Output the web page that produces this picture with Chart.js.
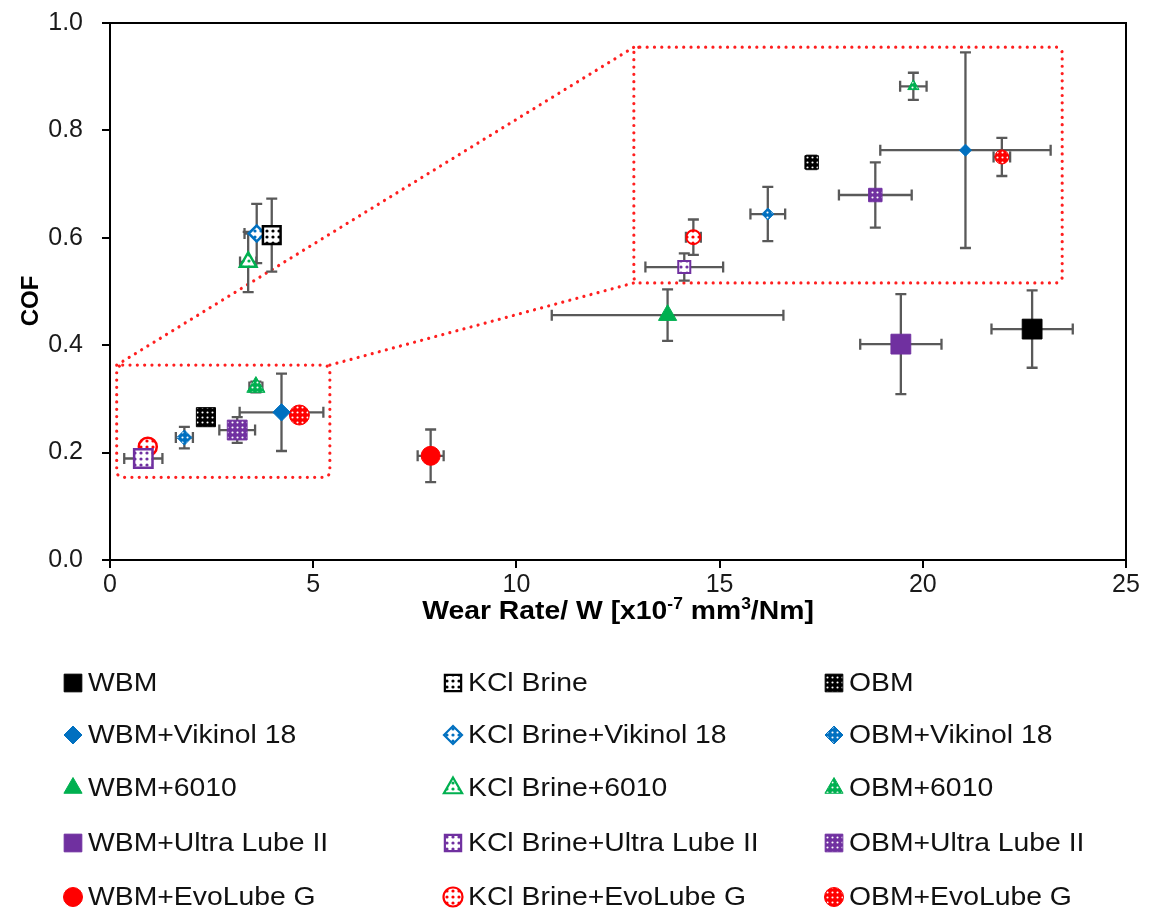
<!DOCTYPE html>
<html>
<head>
<meta charset="utf-8">
<title>COF vs wear rate</title>
<script src="https://cdn.jsdelivr.net/npm/chart.js@4/dist/chart.umd.min.js"></script>
<style>
  html, body { margin: 0; padding: 0; background: #ffffff; }
  #wrap { width: 1150px; height: 913px; }
</style>
</head>
<body>
<div id="wrap"><canvas id="c" width="1150" height="913"></canvas></div>
<script>
// Drilling fluids and lubricant additives
const bases = ['WBM', 'KCl Brine', 'OBM'];
const additives = ['', '+Vikinol 18', '+6010', '+Ultra Lube II', '+EvoLube G'];

// Mean wear rate [x10^-7 mm3/Nm], one entry per additive
const wearWBM = [22.69, 4.22, 13.72, 19.46, 7.89];
const wearKCl = [3.98, 3.61, 3.40, 0.82, 0.93];
const wearOBM = [2.36, 1.83, 3.59, 3.13, 4.66];

// Mean coefficient of friction
const cofWBM = [0.430, 0.275, 0.456, 0.402, 0.194];
const cofKCl = [0.605, 0.608, 0.555, 0.189, 0.211];
const cofOBM = [0.266, 0.228, 0.322, 0.242, 0.270];

// Standard deviations
const wearErrWBM = [1.00, 1.03, 2.85, 1.00, 0.32];
const wearErrKCl = [0.15, 0.30, 0.20, 0.47, 0.09];
const wearErrOBM = [0.05, 0.21, 0.16, 0.44, 0.10];
const cofErrWBM = [0.072, 0.072, 0.048, 0.093, 0.049];
const cofErrKCl = [0.068, 0.055, 0.056, 0.010, 0.013];
const cofErrOBM = [0.005, 0.020, 0.010, 0.024, 0.014];

// Axis ticks
const xTicks = [0, 5, 10, 15, 20, 25];
const yTicks = [0.0, 0.2, 0.4, 0.6, 0.8, 1.0];

// Magnified view: region of the plot that is enlarged, and where the enlargement sits
const ZOOM_SOURCE = { x: [0.165, 5.41], y: [0.154, 0.363] };
const ZOOM_TARGET = { x: [12.89, 23.43], y: [0.516, 0.955] };
const ZOOM_GAIN = { x: 2.035, y: 2.53 };
const ZOOM_SHIFT = { x: 12.462, y: 0.0674 };

const wear = [wearWBM, wearKCl, wearOBM];
const cof = [cofWBM, cofKCl, cofOBM];
const wearErr = [wearErrWBM, wearErrKCl, wearErrOBM];
const cofErr = [cofErrWBM, cofErrKCl, cofErrOBM];

// ---- marker styling ----
const FONT = '"Liberation Sans", Arial, Helvetica, sans-serif';
const TEXT_STRETCH = 1.09;
const colors = ['#000000', '#0070c0', '#00b050', '#7030a0', '#ff0000'];
const shapes = ['rect', 'rectRot', 'triangle', 'rect', 'circle'];
const radiusMain = [
  [14, 8.7, 10.5, 14, 9.5],   // WBM
  [12.5, 8, 9.5, 13, 9],      // KCl Brine
  [13.5, 7.5, 10.5, 14, 10]   // OBM
];
const radiusInset = { rect: 9.5, rectRot: 6, triangle: 6.5, circle: 7 };
const radiusLegend = { rect: 12.5, rectRot: 9, triangle: 10.5, circle: 9.5 };

const canvas = document.getElementById('c');
const ctx0 = canvas.getContext('2d');

function dotTile(bg, fg, step, r) {
  const t = document.createElement('canvas');
  t.width = step; t.height = step;
  const g = t.getContext('2d');
  g.fillStyle = bg; g.fillRect(0, 0, step, step);
  g.fillStyle = fg;
  g.beginPath(); g.arc(step / 2, step / 2, r, 0, Math.PI * 2); g.fill();
  return ctx0.createPattern(t, 'repeat');
}

// WBM: solid; KCl Brine: open marker with coloured speckles; OBM: solid with white dots
const fills = colors.map(c => [c, dotTile('#ffffff', c, 6, 1.6), dotTile(c, '#ffffff', 5, 1.05)]);
const borderW = [1, 2.5, 1];

function markerStyle(b, a) {
  return {
    pointStyle: shapes[a],
    backgroundColor: fills[a][b],
    borderColor: colors[a],
    borderWidth: borderW[b]
  };
}

const datasets = [];
const insetSets = [];
additives.forEach((add, a) => {
  bases.forEach((base, b) => {
    const st = markerStyle(b, a);
    const p = { x: wear[b][a], y: cof[b][a], xe: wearErr[b][a], ye: cofErr[b][a] };
    datasets.push({
      label: base + add,
      data: [p],
      pointStyle: st.pointStyle,
      pointRadius: radiusMain[b][a],
      pointBackgroundColor: st.backgroundColor,
      pointBorderColor: st.borderColor,
      pointBorderWidth: st.borderWidth,
      showLine: false,
      legendInfo: { b, a }
    });
    const inZoom = p.x >= ZOOM_SOURCE.x[0] && p.x <= ZOOM_SOURCE.x[1] &&
                   p.y >= ZOOM_SOURCE.y[0] && p.y <= ZOOM_SOURCE.y[1];
    if (inZoom) {
      insetSets.push({
        label: base + add + ' (detail)',
        data: [{
          x: ZOOM_SHIFT.x + ZOOM_GAIN.x * p.x,
          y: ZOOM_SHIFT.y + ZOOM_GAIN.y * p.y,
          xe: ZOOM_GAIN.x * p.xe,
          ye: ZOOM_GAIN.y * p.ye
        }],
        pointStyle: st.pointStyle,
        pointRadius: radiusInset[st.pointStyle] - (b === 1 && st.pointStyle === 'rect' ? 1 : 0),
        pointBackgroundColor: st.backgroundColor,
        pointBorderColor: st.borderColor,
        pointBorderWidth: b === 1 ? 2 : 1,
        showLine: false,
        inset: true
      });
    }
  });
});

// ---- plugins ----
function dottedPath(ctx, fn) {
  ctx.save();
  ctx.strokeStyle = '#ff1f1f';
  ctx.lineWidth = 3.2;
  ctx.lineCap = 'round';
  ctx.setLineDash([0.01, 7.3]);
  ctx.beginPath();
  fn();
  ctx.stroke();
  ctx.restore();
}

const zoomFrame = {
  id: 'zoomFrame',
  beforeDatasetsDraw(chart) {
    const { ctx, scales: { x, y } } = chart;
    const rect = (r) => {
      const l = x.getPixelForValue(r.x[0]), rr = x.getPixelForValue(r.x[1]);
      const t = y.getPixelForValue(r.y[1]), bt = y.getPixelForValue(r.y[0]);
      return { l, r: rr, t, b: bt };
    };
    const s = rect(ZOOM_SOURCE), d = rect(ZOOM_TARGET);
    [s, d].forEach(q => dottedPath(ctx, () => {
      if (ctx.roundRect) ctx.roundRect(q.l, q.t, q.r - q.l, q.b - q.t, 6);
      else ctx.rect(q.l, q.t, q.r - q.l, q.b - q.t);
    }));
    dottedPath(ctx, () => {
      ctx.moveTo(s.l, s.t); ctx.lineTo(d.l, d.t);
      ctx.moveTo(s.r, s.t); ctx.lineTo(d.l, d.b);
    });
  }
};

const CAP = 5.5;
const errorBars = {
  id: 'errorBars',
  beforeDatasetsDraw(chart) {
    const { ctx, scales: { x, y } } = chart;
    ctx.save();
    ctx.strokeStyle = '#595959';
    ctx.lineWidth = 2.3;
    const seg = (x1, y1, x2, y2) => { ctx.moveTo(x1, y1); ctx.lineTo(x2, y2); };
    ctx.beginPath();
    chart.data.datasets.forEach(ds => {
      ds.data.forEach(p => {
        const px = x.getPixelForValue(p.x), py = y.getPixelForValue(p.y);
        if (p.xe) {
          const l = x.getPixelForValue(p.x - p.xe), r = x.getPixelForValue(p.x + p.xe);
          seg(l, py, r, py); seg(l, py - CAP, l, py + CAP); seg(r, py - CAP, r, py + CAP);
        }
        if (p.ye) {
          const t = y.getPixelForValue(p.y + p.ye), b = y.getPixelForValue(p.y - p.ye);
          seg(px, t, px, b); seg(px - CAP, t, px + CAP, t); seg(px - CAP, b, px + CAP, b);
        }
      });
    });
    ctx.stroke();
    ctx.restore();
  }
};

const frameAndTitles = {
  id: 'frameAndTitles',
  afterDraw(chart) {
    const { ctx, chartArea: ca } = chart;
    ctx.save();
    // top and right edges of the plot box
    ctx.strokeStyle = '#000000';
    ctx.lineWidth = 2;
    ctx.beginPath();
    ctx.moveTo(ca.left, ca.top); ctx.lineTo(ca.right, ca.top); ctx.lineTo(ca.right, ca.bottom);
    ctx.stroke();

    ctx.fillStyle = '#000000';
    // x axis title with superscripts
    const parts = [['Wear Rate/ W [x10', 0], ['-7', 1], [' mm', 0], ['3', 1], ['/Nm]', 0]];
    const big = 'bold 26px ' + FONT, small = 'bold 16px ' + FONT;
    let total = 0;
    parts.forEach(([t, sup]) => { ctx.font = sup ? small : big; total += ctx.measureText(t).width; });
    ctx.save();
    ctx.translate((ca.left + ca.right) / 2, 619);
    ctx.scale(TEXT_STRETCH, 1);
    let cx = -total / 2;
    ctx.textBaseline = 'alphabetic';
    ctx.textAlign = 'left';
    parts.forEach(([t, sup]) => {
      ctx.font = sup ? small : big;
      ctx.fillText(t, cx, sup ? -10 : 0);
      cx += ctx.measureText(t).width;
    });
    ctx.restore();
    // y axis title
    ctx.font = 'bold 24px ' + FONT;
    ctx.translate(31, 301);
    ctx.rotate(-Math.PI / 2);
    ctx.textAlign = 'center';
    ctx.textBaseline = 'middle';
    ctx.fillText('COF', 0, 0);
    ctx.restore();
  }
};

// marker drawing for the legend, same shapes as the data points
function drawMarker(ctx, style, radius, x, y) {
  if (Chart.helpers && Chart.helpers.drawPoint) {
    Chart.helpers.drawPoint(ctx, { pointStyle: style, rotation: 0, radius, borderWidth: ctx.lineWidth }, x, y);
    return;
  }
  ctx.beginPath();
  ctx.arc(x, y, radius, 0, Math.PI * 2);
  ctx.fill(); ctx.stroke();
}

const legendCols = [73, 453, 834];
const legendRows = [683, 735, 788, 843, 897];
const gridLegend = {
  id: 'gridLegend',
  afterDraw(chart) {
    const { ctx } = chart;
    ctx.save();
    chart.data.datasets.forEach(ds => {
      if (!ds.legendInfo) return;
      const { b, a } = ds.legendInfo;
      const mx = legendCols[b], my = legendRows[a];
      ctx.fillStyle = ds.pointBackgroundColor;
      ctx.strokeStyle = ds.pointBorderColor;
      ctx.lineWidth = b === 1 ? 2.2 : 1;
      drawMarker(ctx, ds.pointStyle, radiusLegend[ds.pointStyle] - (b === 1 && ds.pointStyle === 'rect' ? 1 : 0), mx, my);
      ctx.save();
      ctx.translate(mx + 15, my);
      ctx.scale(TEXT_STRETCH, 1);
      ctx.fillStyle = '#111111';
      ctx.font = '26px ' + FONT;
      ctx.textAlign = 'left';
      ctx.textBaseline = 'middle';
      ctx.fillText(ds.label, 0, 1);
      ctx.restore();
    });
    ctx.restore();
  }
};

new Chart(canvas, {
  type: 'scatter',
  data: { datasets: datasets.concat(insetSets) },
  options: {
    responsive: false,
    animation: false,
    events: [],
    layout: { padding: { left: 0, right: 24, top: 23, bottom: 293 } },
    plugins: { legend: { display: false }, tooltip: { enabled: false } },
    scales: {
      x: {
        type: 'linear',
        min: xTicks[0],
        max: xTicks[xTicks.length - 1],
        afterBuildTicks(s) { s.ticks = xTicks.map(v => ({ value: v })); },
        afterFit(s) { s.height = 60; s.paddingLeft = 0; s.paddingRight = 0; },
        ticks: { color: '#1a1a1a', font: { family: FONT, size: 25 }, padding: 2, maxRotation: 0,
                 callback: v => String(v) },
        grid: { drawOnChartArea: false, drawTicks: true, tickLength: 8, color: '#000000', lineWidth: 2 },
        border: { color: '#000000', width: 2 }
      },
      y: {
        type: 'linear',
        min: yTicks[0],
        max: yTicks[yTicks.length - 1],
        afterBuildTicks(s) { s.ticks = yTicks.map(v => ({ value: v })); },
        afterFit(s) { s.width = 110; s.paddingTop = 0; s.paddingBottom = 0; },
        ticks: { color: '#1a1a1a', font: { family: FONT, size: 25 }, padding: 19,
                 callback: v => Number(v).toFixed(1) },
        grid: { drawOnChartArea: false, drawTicks: true, tickLength: 8, color: '#000000', lineWidth: 2 },
        border: { color: '#000000', width: 2 }
      }
    }
  },
  plugins: [zoomFrame, errorBars, frameAndTitles, gridLegend]
});
</script>
</body>
</html>
